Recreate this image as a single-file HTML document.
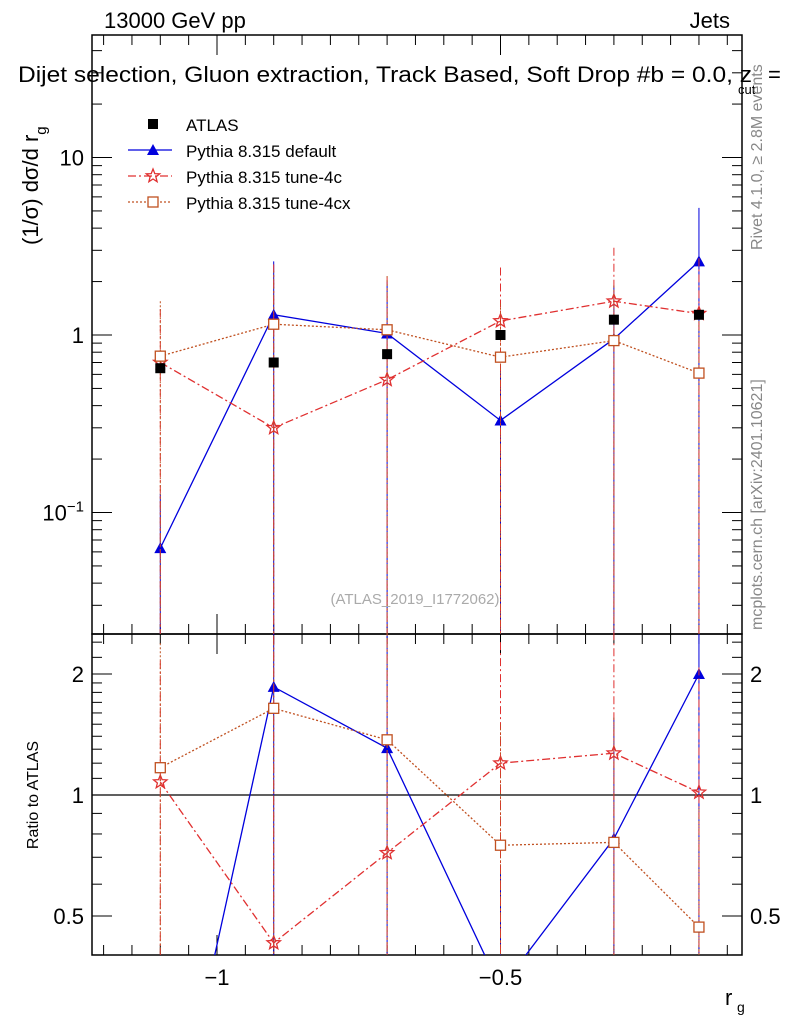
<!DOCTYPE html>
<html><head><meta charset="utf-8"><style>
html,body{margin:0;background:#fff;overflow:hidden;width:786px;height:1024px}
svg{display:block}
svg text{font-family:"Liberation Sans",sans-serif}
</style></head><body>
<svg id="c" width="786" height="1024" xmlns="http://www.w3.org/2000/svg"></svg>
<script>
const xCats=[-1.1,-0.9,-0.7,-0.5,-0.3,-0.15];
const atlas=[0.65,0.70,0.78,1.0,1.22,1.30];
const pyDef=[0.063,1.3,1.02,0.33,0.95,2.6];
const py4c=[0.70,0.30,0.56,1.2,1.55,1.32];
const py4cx=[0.76,1.15,1.07,0.75,0.93,0.61];
const pyDefUp=[0.128,2.6,2.0,0.67,1.9,5.2];
const py4cUp=[1.4,2.5,2.1,2.4,3.1,2.7];
const py4cxUp=[1.55,2.3,2.15,1.5,1.9,1.2];
const mainTicks=[0.1,1,10];
const ratioTicks=[0.5,1,2];
const xTicks=[-1,-0.5];

const svg=document.getElementById('c');const NS='http://www.w3.org/2000/svg';
function el(t,a,p){const e=document.createElementNS(NS,t);for(const k in a)e.setAttribute(k,a[k]);(p||svg).appendChild(e);return e;}
const L=92,R=742,T=35,M=634,B=955;
const X=v=>217+(v+1)*567;
const Y=v=>335-Math.log10(v)*177.5;
const YR=v=>795-Math.log10(v)*402;
let f=el('rect',{x:L,y:T,width:R-L,height:M-T,fill:'none',stroke:'#000','stroke-width':1.5});

f=el('rect',{x:L,y:M,width:R-L,height:B-M,fill:'none',stroke:'#000','stroke-width':1.5});

for(let k=-24;k<=-2;k++){const v=k*0.05;const x=X(v);if(x<L||x>R)continue;
 const major=(k%10===0);const len=major?20:10;
 [[T,1],[M,-1],[M,1],[B,-1]].forEach(([y,d])=>el('line',{x1:x,x2:x,y1:y,y2:y+d*len,stroke:'#000'}));}
xTicks.forEach(v=>{const t=el('text',{x:X(v),y:985,'font-size':22,'text-anchor':'middle'});t.textContent=v==-1?'−1':'−0.5';
 });
for(let d=-2;d<=1;d++)for(let m=1;m<10;m++){const v=m*Math.pow(10,d);const y=Y(v);if(y<T||y>M)continue;const len=m==1?20:10;
 el('line',{x1:L,x2:L+len,y1:y,y2:y,stroke:'#000'});el('line',{x1:R,x2:R-len,y1:y,y2:y,stroke:'#000'});}
mainTicks.forEach(v=>{const t=el('text',{x:84,y:Y(v)+8,'font-size':22,'text-anchor':'end'});
 if(v==0.1){t.textContent='10';const s=el('tspan',{dy:-9,'font-size':15},t);s.textContent='−1';}else t.textContent=String(v);
 });
[0.4,0.5,0.6,0.7,0.8,0.9,1,1.1,1.2,1.3,1.4,1.5,1.6,1.7,1.8,1.9,2,2.2,2.4].forEach(v=>{const y=YR(v);const major=ratioTicks.includes(v);const len=major?20:10;
 el('line',{x1:L,x2:L+len,y1:y,y2:y,stroke:'#000'});el('line',{x1:R,x2:R-len,y1:y,y2:y,stroke:'#000'});});
ratioTicks.forEach(v=>{[[84,'end'],[750,'start']].forEach(([x,a])=>{const t=el('text',{x:x,y:YR(v)+8,'font-size':22,'text-anchor':a});t.textContent=String(v);
 });});
el('line',{x1:L,x2:R,y1:YR(1),y2:YR(1),stroke:'#000','stroke-width':1.2});
const series=[
 {n:'pythia-default',v:pyDef,up:pyDefUp,c:'#0000dd',dash:'',m:'tri'},
 {n:'pythia-tune-4c',v:py4c,up:py4cUp,c:'#e03030',dash:'8,3,2,3',m:'star'},
 {n:'pythia-tune-4cx',v:py4cx,up:py4cxUp,c:'#c05020',dash:'2,2',m:'sq'}];
function marker(m,x,y,c,p){if(m=='tri')return el('path',{d:`M${x},${y-6}L${x+6},${y+5}L${x-6},${y+5}Z`,fill:c},p);
 if(m=='sq')return el('rect',{x:x-5,y:y-5,width:10,height:10,fill:'#fff',stroke:c,'stroke-width':1.3},p);
 let d='';for(let i=0;i<10;i++){const r=i%2?3:7;const a=-Math.PI/2+i*Math.PI/5;d+=(i?'L':'M')+(x+r*Math.cos(a)).toFixed(1)+','+(y+r*Math.sin(a)).toFixed(1);}
 return el('path',{d:d+'Z',fill:'none',stroke:c,'stroke-width':1.3},p);}
function drawClip(id,y1,y2){const cp=el('clipPath',{id:id});el('rect',{x:L,y:y1,width:R-L,height:y2-y1},cp);}
drawClip('cm',T,M);drawClip('cr',M,B);
series.forEach(s=>{
 const g=el('g',{'clip-path':'url(#cm)'});
 const gr=el('g',{'clip-path':'url(#cr)'});
 el('polyline',{points:s.v.map((v,i)=>X(xCats[i])+','+Y(v)).join(' '),fill:'none',stroke:s.c,'stroke-width':1.3,'stroke-dasharray':s.dash},g);
 el('polyline',{points:s.v.map((v,i)=>X(xCats[i])+','+YR(v/atlas[i])).join(' '),fill:'none',stroke:s.c,'stroke-width':1.3,'stroke-dasharray':s.dash},gr);
 s.v.forEach((v,i)=>{const x=X(xCats[i]);
  el('line',{x1:x,x2:x,y1:Y(s.up[i]),y2:M,stroke:s.c,'stroke-width':1,'stroke-dasharray':s.dash},g);
  el('line',{x1:x,x2:x,y1:YR(s.up[i]/atlas[i]),y2:B,stroke:s.c,'stroke-width':1,'stroke-dasharray':s.dash},gr);
  marker(s.m,x,Y(v),s.c,g);marker(s.m,x,YR(v/atlas[i]),s.c,gr);});
});
const ga=el('g',{});
atlas.forEach((v,i)=>{el('rect',{x:X(xCats[i])-5,y:Y(v)-5,width:10,height:10,fill:'#000'},ga);});
const leg=[['ATLAS','#000','','dot'],['Pythia 8.315 default','#0000dd','','tri'],['Pythia 8.315 tune-4c','#e03030','8,3,2,3','star'],['Pythia 8.315 tune-4cx','#c05020','2,2','sq']];
leg.forEach((l,i)=>{const y=124+i*26;const g=el('g',{});
 if(l[3]=='dot')el('rect',{x:148,y:y-5,width:10,height:10,fill:'#000'},g);
 else{el('line',{x1:128,x2:172,y1:y,y2:y,stroke:l[1],'stroke-width':1.3,'stroke-dasharray':l[2]},g);marker(l[3],153,y,l[1],g);}
 const t=el('text',{x:186,y:y+7,'font-size':17},g);t.textContent=l[0];});
function txt(name,x,y,s,str,extra){const t=el('text',Object.assign({x:x,y:y,'font-size':s},extra||{}));t.textContent=str;return t;}
txt('energy-label',104,28,22,'13000 GeV pp');
txt('jets-label',730,28,22,'Jets',{'text-anchor':'end'});
txt('plot-title',18,82,22,'Dijet selection, Gluon extraction, Track Based, Soft Drop #b = 0.0, z',{textLength:734,lengthAdjust:'spacingAndGlyphs'});
txt('zcut-sub',738,94,13,'cut');txt('title-eq',768,82,22,'=');
txt('analysis-id',415,604,15,'(ATLAS_2019_I1772062)',{'text-anchor':'middle',fill:'#aaa'});
txt('rivet-label',762,250,16,'Rivet 4.1.0, ≥ 2.8M events',{transform:'rotate(-90 762 250)',fill:'#888'});
txt('mcplots-label',762,630,16,'mcplots.cern.ch [arXiv:2401.10621]',{transform:'rotate(-90 762 630)',fill:'#888'});
const yt=txt('y-axis-title',38,245,22,'(1/σ) dσ/d r',{transform:'rotate(-90 38 245)'});
const ys=el('tspan',{dy:8,'font-size':15},yt);ys.textContent='g';
txt('ratio-axis-title',38,795,16,'Ratio to ATLAS',{transform:'rotate(-90 38 795)','text-anchor':'middle'});
txt('x-axis-title',725,1005,22,'r');txt('x-axis-sub',737,1012,14,'g');
</script>
</body></html>
